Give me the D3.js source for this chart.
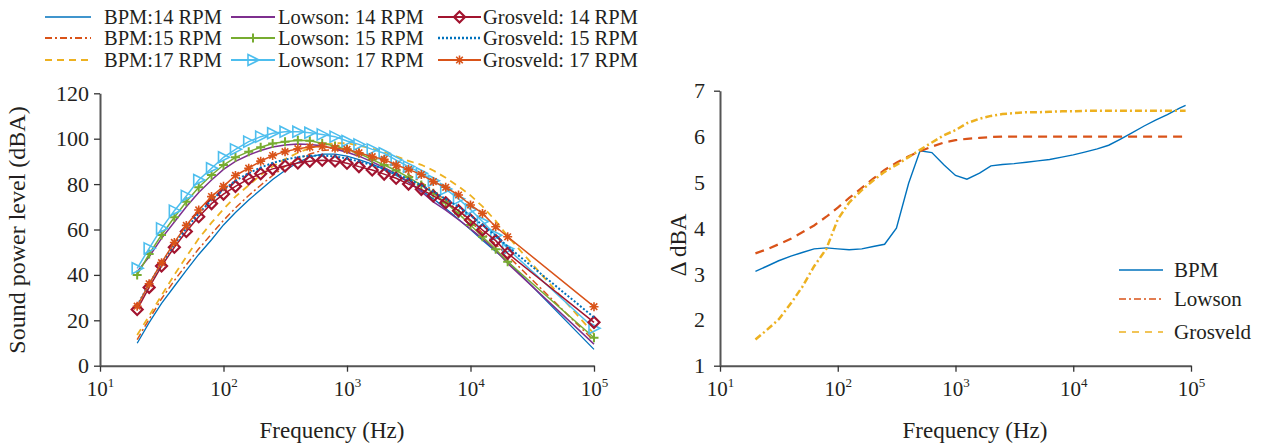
<!DOCTYPE html>
<html><head><meta charset="utf-8">
<script src="https://cdn.jsdelivr.net/npm/d3@7"></script>
<style>
body{margin:0;background:#fff;}
</style></head><body>
<svg id="c" width="1272" height="445"></svg>
<script>
// ---------- Left chart data (sound power level, dBA) ----------
const freqs = [20,25,31.5,40,50,63,80,100,125,160,200,250,315,400,500,630,800,1000,1250,1600,2000,2500,3150,4000,5000,6300,8000,10000,12500,16000,20000,100000];
const bpm14 = [9.9,19,27.5,35,42,49,55.5,62,67.5,73,77.5,82,86,89.5,92,93.2,93.2,92.3,90.8,88.8,86.5,83.8,80.8,77.3,73.5,69.2,64.5,60,55.3,50.3,46,7.2];
const bpm15 = [11.5,20.5,29.5,37.5,44.5,51.5,58,64,69.5,75,79.5,83.8,87.8,91,93.3,94.8,95.2,94.8,93.7,92,89.8,87.2,84.2,80.8,77,72.8,68.2,63.5,58.5,53.5,48.5,11];
const bpm17 = [13.5,22,31,40,48,56,63,69,74.5,79.5,84,87.8,91,93.8,95.9,97.3,98,98,97,95.6,94.2,92.2,90.2,88.5,86,82.8,79,75,70.2,63.8,57,14];
const lowson14 = [41.4,48,56.1,63.3,70,76.3,81.8,86.5,90,92.8,94.8,96.3,97.2,97.7,97.4,96.9,95.5,94,92.3,89.8,87.2,84.5,81,76.7,72.2,68.5,64.3,60.3,56,50.8,45.1,9.5];
const lowson15 = [40,49.2,57.6,65.4,72.2,78.6,84,88.4,91.8,94.3,96.2,97.9,98.7,99.3,99.1,98,96.8,95.3,93.6,90.8,88.4,86,83,79.6,76,71.8,67,62,56.8,51.3,45.8,12.3];
const lowson17 = [42.9,51.7,60.5,68.3,74.8,81.8,87,91.8,95.3,98.7,100.9,102.4,103.1,103.1,102.6,101.9,100.9,99,97.5,95.3,93.6,90.6,87.7,84.8,81.5,77.8,73.5,68.8,63.5,57.5,51.5,16.5];
const grosveld14 = [24.8,34.5,43.9,52.2,59.1,65.6,71.4,75.6,79,82.3,84.6,86.7,88,89.3,90.1,90.5,90.2,89.2,87.7,86.2,84.4,82.6,80,77.7,74.8,71.8,68.3,64.2,59.8,55.1,49.5,19.1];
const grosveld15 = [26.5,36,45,53.5,60.5,67,73,77.5,81.5,84.8,87.3,89.3,90.8,91.9,92.5,92.6,92.2,91.3,90,88.4,86.6,84.5,82.2,79.5,76.7,73.5,70,66.2,62,57.3,52.5,21.3];
const grosveld17 = [26.2,36.1,45.4,54.3,61.8,68.6,74.5,79,83.8,87,90.1,92.6,94.3,95.6,96.3,96.6,95.8,95.3,93.8,92.1,90.9,88.4,86.5,84.2,81.1,78.6,75.2,70.8,67.1,61.2,56.8,26];
const leftLabels = ["BPM:14 RPM","BPM:15 RPM","BPM:17 RPM","Lowson: 14 RPM","Lowson: 15 RPM","Lowson: 17 RPM","Grosveld: 14 RPM","Grosveld: 15 RPM","Grosveld: 17 RPM"];
const leftYTicks = [0,20,40,60,80,100,120];

// ---------- Right chart data (delta dBA) ----------
const rfreqs = [20,25,31.5,40,50,63,80,100,125,160,200,250,315,400,500,630,800,1000,1250,1600,2000,2500,3150,4000,5000,6300,8000,10000,12500,16000,20000,25000,31500,40000,50000,63000,80000,90000];
const dBPM = [3.06,3.17,3.29,3.39,3.47,3.55,3.57,3.55,3.53,3.55,3.60,3.65,4.0,4.98,5.69,5.65,5.38,5.15,5.07,5.20,5.36,5.39,5.41,5.44,5.47,5.50,5.55,5.60,5.66,5.73,5.81,5.94,6.08,6.23,6.36,6.48,6.62,6.68];
const dLowson = [3.45,3.54,3.65,3.77,3.91,4.06,4.25,4.45,4.66,4.88,5.08,5.27,5.43,5.57,5.68,5.78,5.87,5.92,5.95,5.97,5.99,6.0,6.0,6.0,6.0,6.0,6.0,6.0,6.0,6.0,6.0,6.0,6.0,6.0,6.0,6.0,6.0,6.0];
const dGrosveld = [1.57,1.78,2.01,2.36,2.72,3.17,3.55,4.19,4.56,4.83,5.04,5.23,5.38,5.55,5.71,5.87,6.03,6.14,6.29,6.39,6.45,6.49,6.51,6.53,6.53,6.54,6.55,6.55,6.56,6.56,6.56,6.56,6.56,6.56,6.56,6.56,6.56,6.56];
const rightLabels = ["BPM","Lowson","Grosveld"];
const rightYTicks = [1,2,3,4,5,6,7];
const xTicks = [10,100,1000,10000,100000];

// ---------- styles ----------
const FONT = "'Liberation Serif','DejaVu Serif','Times New Roman',serif";
const C = {blue:"#0072BD",orange:"#D95319",yellow:"#EDB120",purple:"#7E2F8E",green:"#77AC30",lblue:"#4DBEEE",dred:"#A2142F"};
const MK = {
  tri:"M-5,-5.5L6,0L-5,5.5Z",
  plus:"M-4.5,0H4.5M0,-4.5V4.5",
  diamond:"M0,-5.5L5.5,0L0,5.5L-5.5,0Z",
  star:"M-4.5,0H4.5M0,-4.5V4.5M-3.3,-3.3L3.3,3.3M3.3,-3.3L-3.3,3.3"
};
const leftSeries = [
  {v:bpm14, c:C.blue, dash:null, w:1.3},
  {v:bpm15, c:C.orange, dash:"7,3,2,3", w:1.5},
  {v:bpm17, c:C.yellow, dash:"7,5", w:1.8},
  {v:lowson14, c:C.purple, dash:null, w:1.5},
  {v:lowson15, c:C.green, dash:null, w:1.5, m:"plus", mw:2},
  {v:lowson17, c:C.lblue, dash:null, w:1.5, m:"tri", mw:1.6},
  {v:grosveld14, c:C.dred, dash:null, w:1.5, m:"diamond", mw:2.2},
  {v:grosveld15, c:C.blue, dash:"2,2", w:2},
  {v:grosveld17, c:C.orange, dash:null, w:1.5, m:"star", mw:1.6}
];

const svg = d3.select("#c");
const LX = d3.scaleLog().domain([10,1e5]).range([100,594]);
const LY = d3.scaleLinear().domain([0,120]).range([365.7,93.3]);
const RX = d3.scaleLog().domain([10,1e5]).range([720,1191]);
const RY = d3.scaleLinear().domain([1,7]).range([365.7,90.7]);

function axes(x, y, yTicks, yPad, hideMid) {
  const g = svg.append("g");
  const xa = g.append("g").attr("transform",`translate(0,${y.range()[0]})`)
    .call(d3.axisBottom(x).tickValues(xTicks).tickSize(6).tickSizeOuter(0).tickFormat(""));
  xa.selectAll(".tick text").remove();
  xa.selectAll(".tick").each(function(d){
    const t = d3.select(this).append("text").attr("y",30).attr("text-anchor","middle")
      .attr("font-size",21);
    t.append("tspan").text("10");
    t.append("tspan").attr("dy",-9).attr("font-size",13).text(Math.round(Math.log10(d)));
  });
  const ya = g.append("g").attr("transform",`translate(${x.range()[0]},0)`)
    .call(d3.axisLeft(y).tickValues(yTicks).tickSize(6).tickSizeOuter(0).tickPadding(yPad).tickFormat(d3.format("d")));
  ya.selectAll(".tick text").attr("font-size",22);
  if (hideMid) ya.selectAll(".tick line").attr("stroke-opacity",(d)=> (d===yTicks[0]||d===yTicks[yTicks.length-1])?1:0);
  [xa,ya].forEach(a=>{
    a.attr("font-family",null).attr("font-size",null);
    a.select(".domain").attr("stroke","#555").attr("stroke-width",2);
    a.selectAll(".tick line").attr("stroke","#333").attr("stroke-width",1.3);
  });
}

// ---------- Left chart ----------
axes(LX, LY, leftYTicks, 5, false);
const lineL = d3.line().x((d,i)=>LX(freqs[i])).y(d=>LY(d));
const gl = svg.append("g");
leftSeries.forEach(s=>{
  gl.append("path").attr("d",lineL(s.v)).attr("fill","none").attr("stroke",s.c)
    .attr("stroke-width",s.w).attr("stroke-dasharray",s.dash);
  if (s.m) {
    gl.selectAll(null).data(s.v).enter().append("path")
      .attr("transform",(d,i)=>`translate(${LX(freqs[i])},${LY(d)})`)
      .attr("d",MK[s.m]).attr("fill","none").attr("stroke",s.c).attr("stroke-width",s.mw);
  }
});
// left legend
const legCols = [{x1:45,x2:91,tx:104},{x1:231,x2:275,tx:278},{x1:438,x2:481,tx:483}];
const legRows = [17,38,60];
leftSeries.forEach((s,i)=>{
  const col = legCols[Math.floor(i/3)], yy = legRows[i%3];
  const g = svg.append("g");
  g.append("line").attr("x1",col.x1).attr("x2",col.x2).attr("y1",yy).attr("y2",yy)
    .attr("stroke",s.c).attr("stroke-width",s.w+0.3).attr("stroke-dasharray",s.dash);
  if (s.m) g.append("path").attr("transform",`translate(${(col.x1+col.x2)/2},${yy})`)
    .attr("d",MK[s.m]).attr("fill","none").attr("stroke",s.c).attr("stroke-width",s.mw);
  g.append("text").attr("x",col.tx).attr("y",yy+7).attr("font-size",20.5).text(leftLabels[i]);
});
svg.append("text").attr("x",332).attr("y",438).attr("text-anchor","middle").attr("font-size",23).text("Frequency (Hz)");
svg.append("text").attr("transform","translate(25,230) rotate(-90)").attr("text-anchor","middle").attr("font-size",24).text("Sound power level (dBA)");

// ---------- Right chart ----------
axes(RX, RY, rightYTicks, 9, true);
const lineR = d3.line().x((d,i)=>RX(rfreqs[i])).y(d=>RY(d));
const rightSeries = [
  {v:dBPM, c:C.blue, dash:null, w:1.4, legDash:null},
  {v:dLowson, c:C.orange, dash:"9,6", w:2.2, legDash:"7,3,2,3"},
  {v:dGrosveld, c:C.yellow, dash:"7,3,2,3", w:2.5, legDash:"7,6"}
];
rightSeries.forEach(s=>{
  svg.append("path").attr("d",lineR(s.v)).attr("fill","none").attr("stroke",s.c)
    .attr("stroke-width",s.w).attr("stroke-dasharray",s.dash);
});
const rLegY = [270,299,332];
rightSeries.forEach((s,i)=>{
  svg.append("line").attr("x1",1119).attr("x2",1163).attr("y1",rLegY[i]).attr("y2",rLegY[i])
    .attr("stroke",s.c).attr("stroke-width",1.6).attr("stroke-dasharray",s.legDash);
  svg.append("text").attr("x",1174).attr("y",rLegY[i]+7).attr("font-size",21).text(rightLabels[i]);
});
svg.append("text").attr("x",975).attr("y",438).attr("text-anchor","middle").attr("font-size",23).text("Frequency (Hz)");
svg.append("text").attr("transform","translate(686,245) rotate(-90)").attr("text-anchor","middle").attr("font-size",23).text("Δ dBA");

svg.selectAll("text").style("font-family",FONT).style("fill","#231f20");
</script>
</body></html>
